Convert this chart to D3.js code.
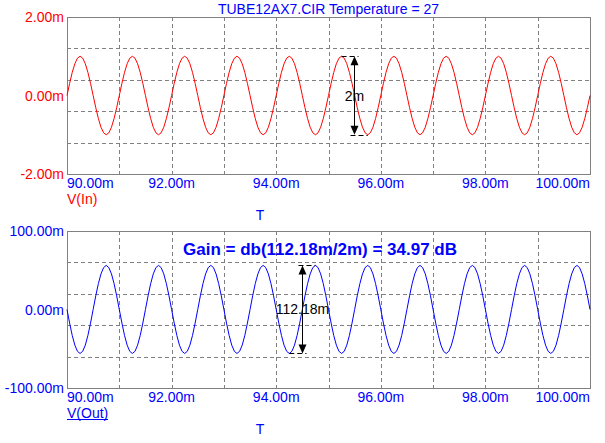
<!DOCTYPE html>
<html><head><meta charset="utf-8">
<script src="https://cdn.jsdelivr.net/npm/d3@7"></script>
<style>
html,body{margin:0;padding:0;background:#fff;}
svg{display:block;font-family:"Liberation Sans",Arial,sans-serif;}
</style></head>
<body><svg id="c" width="605" height="443"></svg>
<script>
// ---- data (time in ms, voltages in mV) ----
const time = [
90.00,90.05,90.10,90.15,90.20,90.25,90.30,90.35,90.40,90.45,90.50,90.55,90.60,90.65,90.70,90.75,90.80,90.85,90.90,90.95,
91.00,91.05,91.10,91.15,91.20,91.25,91.30,91.35,91.40,91.45,91.50,91.55,91.60,91.65,91.70,91.75,91.80,91.85,91.90,91.95,
92.00,92.05,92.10,92.15,92.20,92.25,92.30,92.35,92.40,92.45,92.50,92.55,92.60,92.65,92.70,92.75,92.80,92.85,92.90,92.95,
93.00,93.05,93.10,93.15,93.20,93.25,93.30,93.35,93.40,93.45,93.50,93.55,93.60,93.65,93.70,93.75,93.80,93.85,93.90,93.95,
94.00,94.05,94.10,94.15,94.20,94.25,94.30,94.35,94.40,94.45,94.50,94.55,94.60,94.65,94.70,94.75,94.80,94.85,94.90,94.95,
95.00,95.05,95.10,95.15,95.20,95.25,95.30,95.35,95.40,95.45,95.50,95.55,95.60,95.65,95.70,95.75,95.80,95.85,95.90,95.95,
96.00,96.05,96.10,96.15,96.20,96.25,96.30,96.35,96.40,96.45,96.50,96.55,96.60,96.65,96.70,96.75,96.80,96.85,96.90,96.95,
97.00,97.05,97.10,97.15,97.20,97.25,97.30,97.35,97.40,97.45,97.50,97.55,97.60,97.65,97.70,97.75,97.80,97.85,97.90,97.95,
98.00,98.05,98.10,98.15,98.20,98.25,98.30,98.35,98.40,98.45,98.50,98.55,98.60,98.65,98.70,98.75,98.80,98.85,98.90,98.95,
99.00,99.05,99.10,99.15,99.20,99.25,99.30,99.35,99.40,99.45,99.50,99.55,99.60,99.65,99.70,99.75,99.80,99.85,99.90,99.95,
100.00];
const vIn = [
0,0.309,0.588,0.809,0.951,1.000,0.951,0.809,0.588,0.309,0,-0.309,-0.588,-0.809,-0.951,-1.000,-0.951,-0.809,-0.588,-0.309,
0,0.309,0.588,0.809,0.951,1.000,0.951,0.809,0.588,0.309,0,-0.309,-0.588,-0.809,-0.951,-1.000,-0.951,-0.809,-0.588,-0.309,
0,0.309,0.588,0.809,0.951,1.000,0.951,0.809,0.588,0.309,0,-0.309,-0.588,-0.809,-0.951,-1.000,-0.951,-0.809,-0.588,-0.309,
0,0.309,0.588,0.809,0.951,1.000,0.951,0.809,0.588,0.309,0,-0.309,-0.588,-0.809,-0.951,-1.000,-0.951,-0.809,-0.588,-0.309,
0,0.309,0.588,0.809,0.951,1.000,0.951,0.809,0.588,0.309,0,-0.309,-0.588,-0.809,-0.951,-1.000,-0.951,-0.809,-0.588,-0.309,
0,0.309,0.588,0.809,0.951,1.000,0.951,0.809,0.588,0.309,0,-0.309,-0.588,-0.809,-0.951,-1.000,-0.951,-0.809,-0.588,-0.309,
0,0.309,0.588,0.809,0.951,1.000,0.951,0.809,0.588,0.309,0,-0.309,-0.588,-0.809,-0.951,-1.000,-0.951,-0.809,-0.588,-0.309,
0,0.309,0.588,0.809,0.951,1.000,0.951,0.809,0.588,0.309,0,-0.309,-0.588,-0.809,-0.951,-1.000,-0.951,-0.809,-0.588,-0.309,
0,0.309,0.588,0.809,0.951,1.000,0.951,0.809,0.588,0.309,0,-0.309,-0.588,-0.809,-0.951,-1.000,-0.951,-0.809,-0.588,-0.309,
0,0.309,0.588,0.809,0.951,1.000,0.951,0.809,0.588,0.309,0,-0.309,-0.588,-0.809,-0.951,-1.000,-0.951,-0.809,-0.588,-0.309,
0];
const vOut = [
0,-17.3,-33.0,-45.4,-53.3,-56.0,-53.3,-45.4,-33.0,-17.3,0,17.4,33.0,45.4,53.4,56.2,53.4,45.4,33.0,17.4,
0,-17.3,-33.0,-45.4,-53.3,-56.0,-53.3,-45.4,-33.0,-17.3,0,17.4,33.0,45.4,53.4,56.2,53.4,45.4,33.0,17.4,
0,-17.3,-33.0,-45.4,-53.3,-56.0,-53.3,-45.4,-33.0,-17.3,0,17.4,33.0,45.4,53.4,56.2,53.4,45.4,33.0,17.4,
0,-17.3,-33.0,-45.4,-53.3,-56.0,-53.3,-45.4,-33.0,-17.3,0,17.4,33.0,45.4,53.4,56.2,53.4,45.4,33.0,17.4,
0,-17.3,-33.0,-45.4,-53.3,-56.0,-53.3,-45.4,-33.0,-17.3,0,17.4,33.0,45.4,53.4,56.2,53.4,45.4,33.0,17.4,
0,-17.3,-33.0,-45.4,-53.3,-56.0,-53.3,-45.4,-33.0,-17.3,0,17.4,33.0,45.4,53.4,56.2,53.4,45.4,33.0,17.4,
0,-17.3,-33.0,-45.4,-53.3,-56.0,-53.3,-45.4,-33.0,-17.3,0,17.4,33.0,45.4,53.4,56.2,53.4,45.4,33.0,17.4,
0,-17.3,-33.0,-45.4,-53.3,-56.0,-53.3,-45.4,-33.0,-17.3,0,17.4,33.0,45.4,53.4,56.2,53.4,45.4,33.0,17.4,
0,-17.3,-33.0,-45.4,-53.3,-56.0,-53.3,-45.4,-33.0,-17.3,0,17.4,33.0,45.4,53.4,56.2,53.4,45.4,33.0,17.4,
0,-17.3,-33.0,-45.4,-53.3,-56.0,-53.3,-45.4,-33.0,-17.3,0,17.4,33.0,45.4,53.4,56.2,53.4,45.4,33.0,17.4,
0];
const xTickLabels = [90, 92, 94, 96, 98, 100];
const xGrid = [91, 92, 93, 94, 95, 96, 97, 98, 99];
const inTicks = [2, 0, -2];
const inGrid = [1.2, 0.4, -0.4, -1.2];
const outTicks = [100, 0, -100];
const outGrid = [60, 20, -20, -60];
const titleText = "TUBE12AX7.CIR Temperature = 27";
const gainText = "Gain = db(112.18m/2m) = 34.97 dB";
// annotation measurements
const inMeasure = {t: 95.49, lo: -1.0, hi: 1.0, label: "2m", peakT: 95.25, troughT: 95.75};
const outMeasure = {t: 94.50, lo: -56.0, hi: 56.2, label: "112.18m", peakT: 94.75, troughT: 94.25};

// ---- drawing ----
const svg = d3.select("#c");
const GRAY = "#808080", RED = "#ff0000", BLUE = "#0000ff";
const L = 67, R = 590;
const x = d3.scaleLinear().domain([90, 100]).range([L, R]);

function fmt(v){ return v.toFixed(2) + "m"; }

function panel(top, bottom, yDom, ticks, grid, values, color, name, nameColor, underline){
  const y = d3.scaleLinear().domain(yDom).range([bottom, top]);
  const g = svg.append("g");
  g.selectAll("line.vg").data(xGrid).join("line")
    .attr("x1", d => Math.round(x(d)) + 0.5).attr("x2", d => Math.round(x(d)) + 0.5)
    .attr("y1", top).attr("y2", bottom)
    .attr("stroke", GRAY).attr("stroke-dasharray", "4,3").attr("shape-rendering", "crispEdges");
  g.selectAll("line.hg").data(grid).join("line")
    .attr("y1", d => Math.round(y(d)) + 0.5).attr("y2", d => Math.round(y(d)) + 0.5)
    .attr("x1", L).attr("x2", R)
    .attr("stroke", GRAY).attr("stroke-dasharray", "4,3").attr("shape-rendering", "crispEdges");
  g.append("rect").attr("x", L + 0.5).attr("y", top + 0.5).attr("width", R - L).attr("height", bottom - top)
    .attr("fill", "none").attr("stroke", GRAY).attr("shape-rendering", "crispEdges");
  g.selectAll("text.yl").data(ticks).join("text")
    .attr("x", 64).attr("y", d => y(d) + 5).attr("text-anchor", "end")
    .attr("font-size", 14).attr("fill", color).text(fmt);
  g.selectAll("text.xl").data(xTickLabels).join("text")
    .attr("x", d => x(d)).attr("y", bottom + 14)
    .attr("text-anchor", (d, i) => i === 0 ? "start" : (i === xTickLabels.length - 1 ? "end" : "middle"))
    .attr("font-size", 14).attr("fill", BLUE).text(fmt);
  const line = d3.line().x((d, i) => x(time[i])).y(d => y(d));
  g.append("path").datum(values).attr("d", line).attr("fill", "none").attr("stroke", color).attr("stroke-width", 1);
  const nm = g.append("text").attr("x", L).attr("y", bottom + 30).attr("font-size", 14).attr("fill", nameColor).text(name);
  if (underline){
    const w = nm.node().getComputedTextLength();
    g.append("line").attr("x1", L).attr("x2", L + w).attr("y1", bottom + 31.5).attr("y2", bottom + 31.5)
      .attr("stroke", nameColor).attr("shape-rendering", "crispEdges");
  }
  g.append("text").attr("x", 260).attr("y", bottom + 45.5).attr("text-anchor", "middle")
    .attr("font-size", 14).attr("fill", BLUE).text("T");
  return y;
}

function measure(y, m){
  const ax = Math.round(x(m.t)) + 0.5;
  const yh = y(m.hi), yl = y(m.lo);
  const g = svg.append("g");
  g.append("line").attr("x1", ax).attr("x2", ax).attr("y1", yh + 4).attr("y2", yl - 4).attr("stroke", "#000");
  g.append("path").attr("d", `M${ax},${yh} L${ax-4},${yh+9} L${ax+4},${yh+9} Z`).attr("fill", "#000");
  g.append("path").attr("d", `M${ax},${yl} L${ax-4},${yl-9} L${ax+4},${yl-9} Z`).attr("fill", "#000");
  const px = x(m.peakT), tx = x(m.troughT);
  g.append("line").attr("x1", Math.min(px, ax - 4)).attr("x2", Math.max(px, ax + 4))
    .attr("y1", Math.round(yh) + 0.5).attr("y2", Math.round(yh) + 0.5).attr("stroke", "#000").attr("stroke-dasharray", "5,3");
  g.append("line").attr("x1", Math.min(tx, ax - 4)).attr("x2", Math.max(tx, ax + 4))
    .attr("y1", Math.round(yl) + 0.5).attr("y2", Math.round(yl) + 0.5).attr("stroke", "#000").attr("stroke-dasharray", "5,3");
  g.append("text").attr("x", ax).attr("y", (yh + yl) / 2 + 5).attr("text-anchor", "middle")
    .attr("font-size", 14).attr("fill", "#000").text(m.label);
}

svg.append("text").attr("x", (L + R) / 2).attr("y", 14).attr("text-anchor", "middle")
  .attr("font-size", 14).attr("fill", BLUE).text(titleText);

const yIn = panel(17, 174, [-2, 2], inTicks, inGrid, vIn, RED, "V(In)", RED, false);
const yOut = panel(231, 388, [-100, 100], outTicks, outGrid, vOut, BLUE, "V(Out)", BLUE, true);

measure(yIn, inMeasure);
measure(yOut, outMeasure);

svg.append("text").attr("x", 320).attr("y", 255).attr("text-anchor", "middle")
  .attr("font-size", 17).attr("font-weight", "bold").attr("fill", BLUE).text(gainText);
</script></body></html>
